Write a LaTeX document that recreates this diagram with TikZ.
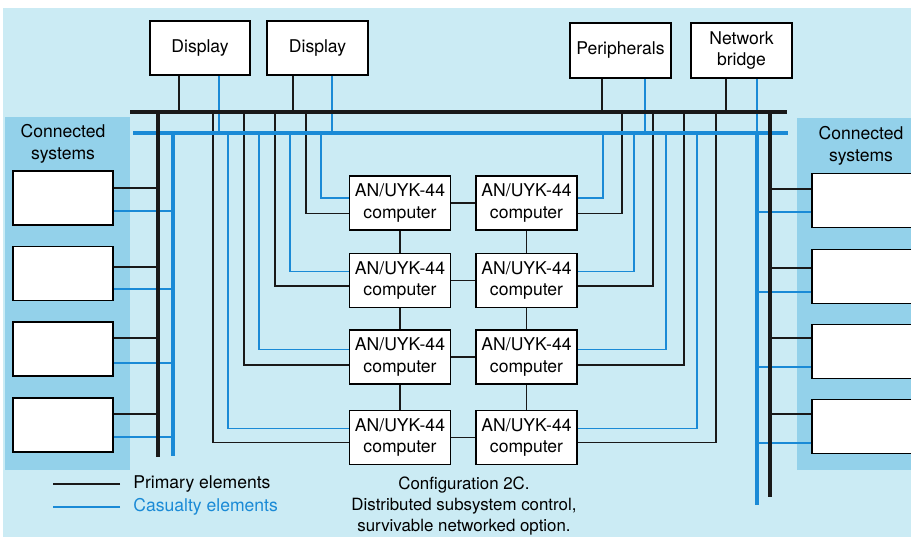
\documentclass[tikz,border=0pt]{standalone}
\usepackage{fontspec}
\setmainfont{TeX Gyre Heros}
\usetikzlibrary{positioning, shadows}
\definecolor{bgBlue}{HTML}{CBEBF4}
\definecolor{panelBlue}{HTML}{93D1EA}
\definecolor{casBlue}{HTML}{1A8AD6}

\begin{document}
\begin{tikzpicture}[
  x=0.2mm, y=-0.2mm,
  font=\fontsize{10}{12.5}\selectfont,
  netBox/.style={
    draw, line width=0.85pt, fill=white, inner sep=1pt, align=center,
    minimum width=20.2mm, minimum height=10.8mm,
    drop shadow={shadow xshift=0.55pt, shadow yshift=-0.55pt, opacity=1, fill=black}
  },
  sysBox/.style={netBox, minimum width=20mm},
  primLine/.style={draw=black!90, line width=0.85pt},
  casLine/.style={draw=casBlue, line width=0.85pt},
  primBus/.style={primLine, line width=1.9pt},
  casBus/.style={casLine, line width=2.1pt},
  legendText/.style={anchor=west, inner sep=0pt}
]
\useasboundingbox (0,0) rectangle (911,537);
\fill[white] (0,0) rectangle (911,537);
\fill[bgBlue] (3,8) rectangle (911,537);
\fill[panelBlue] (5,117) rectangle (130,470);
\fill[panelBlue] (797,118) rectangle (911,470);

\node[align=center] (conL) at (63,144) {Connected\\systems};
\node[align=center] (conR) at (861,146) {Connected\\systems};

% top units
\node[netBox, minimum width=20mm] (disp1) at (200,48) {Display};
\node[netBox] (disp2) at (317.5,48) {Display};
\node[netBox, minimum height=11mm] (periph) at (620.5,50.5) {Peripherals};
\node[netBox, minimum height=11mm] (bridge) at (741.5,50.5) {Network\\bridge};

% connected systems
\foreach \n/\y in {1/198, 2/273.5, 3/349, 4/425}
  \node[sysBox] (sysL\n) at (63,\y) {};
\foreach \n/\y in {1/200.5, 2/276.5, 3/351.5, 4/426.5}
  \node[sysBox] (sysR\n) at (862,\y) {};

% computers
\foreach \r/\y in {1/203, 2/280.5, 3/357, 4/437.5} {
  \node[netBox] (cpuA\r) at (400,\y) {AN/UYK-44\\computer};
  \node[netBox] (cpuB\r) at (526.5,\y) {AN/UYK-44\\computer};
  \draw[primLine] (cpuA\r) -- (cpuB\r);
}
\foreach \r/\s in {1/2, 2/3, 3/4} {
  \draw[primLine] (cpuA\r) -- (cpuA\s);
  \draw[primLine] (cpuB\r) -- (cpuB\s);
}

% buses
\coordinate (kW) at (130,112);
\coordinate (kE) at (787,112);
\coordinate (bW) at (133,133);
\coordinate (bE) at (788,133);
\coordinate (kSW) at (158,457);
\coordinate (bSW) at (173,456);
\coordinate (kSE) at (770,497);
\coordinate (bSE) at (757,505);

\foreach \d/\kx/\bx in {disp1/179/219, disp2/293/332, periph/602/645, bridge/726/757} {
  \draw[primLine] (\d.south -| \kx,0) -- (\kx,0 |- kW);
  \draw[casLine] (\d.south -| \bx,0) -- (\bx,0 |- bW);
}

\foreach \r/\by/\ky/\bxa/\kxa/\bxb/\kxb in {1/198/213.5/321/306/603/622,
    2/271.5/286/290/275/634/653, 3/349.5/365/259/244/666/684,
    4/428.5/442.5/228/213/697/716} {
  \draw[casLine] (cpuA\r.west |- 0,\by) -| (\bxa,0 |- bW);
  \draw[primLine] (cpuA\r.west |- 0,\ky) -| (\kxa,0 |- kW);
  \draw[casLine] (cpuB\r.east |- 0,\by) -| (\bxb,0 |- bW);
  \draw[primLine] (cpuB\r.east |- 0,\ky) -| (\kxb,0 |- kW);
}

\foreach \n/\ky/\by in {1/188/211, 2/267/289, 3/338/363, 4/414/437} {
  \draw[casLine] (sysL\n.east |- 0,\by) -- (bSW |- 0,\by);
  \draw[primLine] (sysL\n.east |- 0,\ky) -- (kSW |- 0,\ky);
}
\foreach \n/\ky/\by in {1/189/212, 2/268/292, 3/338/367, 4/414/443} {
  \draw[casLine] (sysR\n.west |- 0,\by) -- (bSE |- 0,\by);
  \draw[primLine] (sysR\n.west |- 0,\ky) -- (kSE |- 0,\ky);
}

\draw[casBus] (bW) -- (bE);
\draw[casBus] (bSW |- bW) -- (bSW);
\draw[casBus] (bSE |- bW) -- (bSE);
\draw[primBus] (kW) -- (kE);
\draw[primBus] (kSW |- kW) -- (kSW);
\draw[primBus] (kSE |- kW) -- (kSE);

% legend
\node[legendText] (lgPrim) at (133,484) {Primary elements};
\node[legendText, text=casBlue] (lgCas) at (133,507) {Casualty elements};
\draw[primLine] ([xshift=-2.6mm]lgPrim.west) -- ++(-67,0);
\draw[casLine] ([xshift=-2.6mm]lgCas.west) -- ++(-67,0);

\node[align=center, font=\fontsize{9.6}{12.2}\selectfont] (caption) at (464,506)
  {Configuration 2C.\\Distributed subsystem control,\\survivable networked option.};
\end{tikzpicture}
\end{document}
